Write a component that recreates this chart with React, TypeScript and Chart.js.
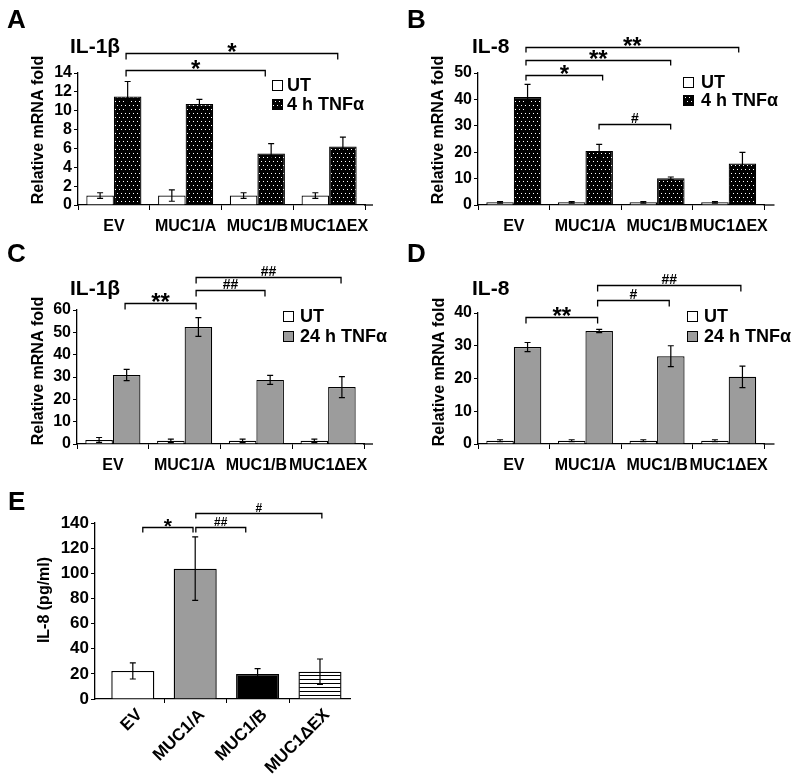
import React, { useEffect, useRef } from 'react';
import { Chart, registerables } from 'chart.js';

Chart.register(...registerables);

const FONT = "'Liberation Sans', Arial, Helvetica, sans-serif";
Chart.defaults.font.family = FONT;
Chart.defaults.color = '#000';

// ---------------- data ----------------
const categories = ['EV', 'MUC1/A', 'MUC1/B', 'MUC1ΔEX'];
const series4h = ['UT', '4 h TNFα'];
const series24h = ['UT', '24 h TNFα'];

// A: IL-1β mRNA, 4 h TNFα
const aUT = [1.0, 1.0, 1.0, 1.0];
const aUTErr = [0.3, 0.6, 0.3, 0.3];
const aTNF = [11.5, 10.7, 5.45, 6.2];
const aTNFErr = [1.6, 0.5, 1.05, 1.0];
const aTicks = [0, 2, 4, 6, 8, 10, 12, 14];

// B: IL-8 mRNA, 4 h TNFα
const bUT = [1.0, 1.0, 1.0, 1.0];
const bUTErr = [0.3, 0.3, 0.3, 0.3];
const bTNF = [40.9, 20.5, 10.1, 15.7];
const bTNFErr = [4.8, 2.5, 0.5, 4.2];
const bTicks = [0, 10, 20, 30, 40, 50];

// C: IL-1β mRNA, 24 h TNFα
const cUT = [1.8, 1.4, 1.4, 1.4];
const cUTErr = [1.1, 0.8, 0.8, 0.8];
const cTNF = [30.9, 52.4, 28.7, 25.5];
const cTNFErr = [2.5, 4.2, 2.0, 4.7];
const cTicks = [0, 10, 20, 30, 40, 50, 60];

// D: IL-8 mRNA, 24 h TNFα
const dUT = [1.0, 1.0, 1.0, 1.0];
const dUTErr = [0.3, 0.3, 0.3, 0.3];
const dTNF = [29.6, 34.5, 26.8, 20.5];
const dTNFErr = [1.4, 0.5, 3.2, 3.3];
const dTicks = [0, 10, 20, 30, 40];

// E: secreted IL-8 (pg/ml)
const eIL8 = [22.3, 103.7, 19.9, 21.7];
const eIL8Err = [6.4, 25.2, 4.3, 10.1];
const eTicks = [0, 20, 40, 60, 80, 100, 120, 140];

// significance brackets (category position from/to, level in axis units, label)
const aSig = [
  { from: 0.17, to: 2.11, level: 14.3, label: '*' },
  { from: 0.17, to: 3.12, level: 16.1, label: '*' },
];
const bSig = [
  { from: 0.17, to: 1.24, level: 49.2, label: '*' },
  { from: 0.17, to: 2.19, level: 54.9, label: '**' },
  { from: 0.17, to: 3.14, level: 60.0, label: '**' },
  { from: 1.19, to: 2.19, level: 30.7, label: '#' },
];
const cSig = [
  { from: 0.17, to: 1.16, level: 63.1, label: '**' },
  { from: 1.16, to: 2.12, level: 69.0, label: '##' },
  { from: 1.16, to: 3.18, level: 74.8, label: '##' },
];
const dSig = [
  { from: 0.17, to: 1.17, level: 38.8, label: '**' },
  { from: 1.17, to: 2.17, level: 44.0, label: '#' },
  { from: 1.17, to: 3.17, level: 48.5, label: '##' },
];
const eSig = [
  { from: 0.16, to: 0.965, level: 136.8, label: '*' },
  { from: 1.01, to: 1.81, level: 136.8, label: '##' },
  { from: 1.01, to: 3.03, level: 148.0, label: '#' },
];

// ---------------- layout / styles ----------------
type Sig = { from: number; to: number; level: number; label: string };
type Panel = {
  key: string;
  letter: string;
  title?: string;
  yTitle: string;
  box: { left: number; top: number; w: number; h: number };
  area: { l: number; r: number; t: number; b: number };
  letterPos: [number, number];
  titlePos?: [number, number];
  yTitlePos: [number, number];
  legendPos?: [number, number, number, number];
  axisExt: number;
  sig: Sig[];
  starSize: number;
  hashSize: number;
  drop: number;
  kind: 'grouped' | 'single';
  names?: string[];
  values: number[][];
  errors: number[][];
  ticks: number[];
  tnfFill?: 'dots' | 'gray';
};

const GRAY = '#9c9c9c';

function dotPattern(): CanvasPattern {
  const c = document.createElement('canvas');
  c.width = 8;
  c.height = 8;
  const g = c.getContext('2d')!;
  g.fillStyle = '#000';
  g.fillRect(0, 0, 8, 8);
  g.fillStyle = '#fff';
  [[1, 1], [5, 1], [3, 5], [7, 5]].forEach(([x, y]) => g.fillRect(x, y, 1, 1));
  return g.createPattern(c, 'repeat')!;
}

function stripePattern(): CanvasPattern {
  const c = document.createElement('canvas');
  c.width = 4;
  c.height = 4;
  const g = c.getContext('2d')!;
  g.fillStyle = '#fff';
  g.fillRect(0, 0, 4, 4);
  g.fillStyle = '#000';
  g.fillRect(0, 3, 4, 1);
  return g.createPattern(c, 'repeat')!;
}

const panels: Panel[] = [
  {
    key: 'A', letter: 'A', title: 'IL-1β', yTitle: 'Relative mRNA fold',
    box: { left: 0, top: 0, w: 400, h: 236 },
    area: { l: 78, r: 365, t: 73, b: 205 },
    letterPos: [7, 28], titlePos: [70, 53], yTitlePos: [39, 130],
    legendPos: [272, 80, 19, 4], axisExt: 8,
    sig: aSig, starSize: 24, hashSize: 14, drop: 6,
    kind: 'grouped', names: series4h, values: [aUT, aTNF], errors: [aUTErr, aTNFErr], ticks: aTicks, tnfFill: 'dots',
  },
  {
    key: 'B', letter: 'B', title: 'IL-8', yTitle: 'Relative mRNA fold',
    box: { left: 400, top: 0, w: 400, h: 236 },
    area: { l: 78, r: 364.5, t: 73, b: 205 },
    letterPos: [7, 28], titlePos: [72, 53], yTitlePos: [39, 130],
    legendPos: [283, 77, 18, 7], axisExt: 10,
    sig: bSig, starSize: 24, hashSize: 14, drop: 5,
    kind: 'grouped', names: series4h, values: [bUT, bTNF], errors: [bUTErr, bTNFErr], ticks: bTicks, tnfFill: 'dots',
  },
  {
    key: 'C', letter: 'C', title: 'IL-1β', yTitle: 'Relative mRNA fold',
    box: { left: 0, top: 236, w: 400, h: 240 },
    area: { l: 77, r: 364, t: 74, b: 208 },
    letterPos: [7, 26], titlePos: [70, 59], yTitlePos: [39, 135],
    legendPos: [283, 75, 20, 6], axisExt: 9,
    sig: cSig, starSize: 24, hashSize: 14, drop: 6,
    kind: 'grouped', names: series24h, values: [cUT, cTNF], errors: [cUTErr, cTNFErr], ticks: cTicks, tnfFill: 'gray',
  },
  {
    key: 'D', letter: 'D', title: 'IL-8', yTitle: 'Relative mRNA fold',
    box: { left: 400, top: 236, w: 400, h: 240 },
    area: { l: 78, r: 364.5, t: 77, b: 208 },
    letterPos: [7, 26], titlePos: [72, 59], yTitlePos: [39.5, 136],
    legendPos: [287, 75, 20, 6], axisExt: 10,
    sig: dSig, starSize: 24, hashSize: 14, drop: 6,
    kind: 'grouped', names: series24h, values: [dUT, dTNF], errors: [dUTErr, dTNFErr], ticks: dTicks, tnfFill: 'gray',
  },
  {
    key: 'E', letter: 'E', yTitle: 'IL-8 (pg/ml)',
    box: { left: 0, top: 476, w: 400, h: 302 },
    area: { l: 95, r: 350, t: 47, b: 223 },
    letterPos: [8, 34], yTitlePos: [45, 124],
    axisExt: 0,
    sig: eSig, starSize: 21, hashSize: 12, drop: 5,
    kind: 'single', values: [eIL8], errors: [eIL8Err], ticks: eTicks,
  },
];

function makePlugin(p: Panel) {
  return {
    id: 'figure' + p.key,
    afterDatasetsDraw(chart: any) {
      const ctx = chart.ctx as CanvasRenderingContext2D;
      const ys = chart.scales.y;
      ctx.save();
      ctx.strokeStyle = '#000';
      ctx.lineWidth = 1.2;
      p.values.forEach((vals, di) => {
        const errs = p.errors[di];
        const meta = chart.getDatasetMeta(di);
        meta.data.forEach((el: any, i: number) => {
          const v = vals[i];
          const e = errs[i];
          const top = ys.getPixelForValue(v + e);
          const bot = ys.getPixelForValue(v - e);
          const cap = 3;
          ctx.beginPath();
          ctx.moveTo(el.x, top);
          ctx.lineTo(el.x, bot);
          ctx.moveTo(el.x - cap, top);
          ctx.lineTo(el.x + cap, top);
          ctx.moveTo(el.x - cap, bot);
          ctx.lineTo(el.x + cap, bot);
          ctx.stroke();
        });
      });
      ctx.restore();
    },
    afterDraw(chart: any) {
      const ctx = chart.ctx as CanvasRenderingContext2D;
      const ca = chart.chartArea;
      const xs = chart.scales.x;
      const ys = chart.scales.y;
      ctx.save();
      ctx.fillStyle = '#000';
      ctx.strokeStyle = '#000';
      ctx.textAlign = 'left';
      ctx.textBaseline = 'alphabetic';
      ctx.font = `bold 26px ${FONT}`;
      ctx.fillText(p.letter, p.letterPos[0], p.letterPos[1]);
      if (p.title && p.titlePos) {
        ctx.font = `bold 21px ${FONT}`;
        ctx.fillText(p.title, p.titlePos[0], p.titlePos[1]);
      }
      // y title
      ctx.save();
      ctx.translate(p.yTitlePos[0], p.yTitlePos[1]);
      ctx.rotate(-Math.PI / 2);
      ctx.textAlign = 'center';
      ctx.textBaseline = 'middle';
      ctx.font = `bold 16px ${FONT}`;
      ctx.fillText(p.yTitle, 0, 0);
      ctx.restore();
      // x-axis extension
      if (p.axisExt) {
        ctx.lineWidth = 1.3;
        ctx.beginPath();
        ctx.moveTo(ca.right - 1, ca.bottom);
        ctx.lineTo(ca.right + p.axisExt, ca.bottom);
        ctx.stroke();
      }
      // small category ticks for the single-series panel
      if (p.kind === 'single') {
        ctx.lineWidth = 1;
        for (let i = 0; i < categories.length - 1; i++) {
          const x = Math.round(xs.getPixelForValue(i + 0.5)) + 0.5;
          ctx.beginPath();
          ctx.moveTo(x, ca.bottom);
          ctx.lineTo(x, ca.bottom + 4);
          ctx.stroke();
        }
      }
      // legend
      if (p.legendPos) {
        const [lx, ly, gap, tgap] = p.legendPos;
        chart.data.datasets.forEach((ds: any, i: number) => {
          const y = ly + i * gap;
          ctx.fillStyle = ds.backgroundColor;
          ctx.fillRect(lx, y, 11, 11);
          ctx.lineWidth = 1;
          ctx.strokeStyle = '#000';
          ctx.strokeRect(lx + 0.5, y + 0.5, 10, 10);
          ctx.fillStyle = '#000';
          ctx.font = `bold 18px ${FONT}`;
          ctx.textBaseline = 'middle';
          ctx.textAlign = 'left';
          ctx.fillText(ds.label, lx + 11 + tgap, y + 6.5);
        });
      }
      // significance brackets
      p.sig.forEach((s) => {
        const x1 = xs.getPixelForValue(s.from);
        const x2 = xs.getPixelForValue(s.to);
        const y = Math.round(ys.getPixelForValue(s.level)) + 0.5;
        ctx.strokeStyle = '#000';
        ctx.lineWidth = 1.3;
        ctx.beginPath();
        ctx.moveTo(x1, y + p.drop);
        ctx.lineTo(x1, y);
        ctx.lineTo(x2, y);
        ctx.lineTo(x2, y + p.drop);
        ctx.stroke();
        ctx.fillStyle = '#000';
        ctx.textAlign = 'center';
        ctx.textBaseline = 'alphabetic';
        const mid = (x1 + x2) / 2;
        if (s.label.includes('*')) {
          ctx.font = `bold ${p.starSize}px ${FONT}`;
          ctx.fillText(s.label, mid, y + p.starSize * 0.25);
        } else {
          ctx.font = `bold ${p.hashSize}px ${FONT}`;
          ctx.fillText(s.label, mid, y - 2);
        }
      });
      ctx.restore();
    },
  };
}

function buildConfig(p: Panel): any {
  const pad = { left: 0, top: p.area.t, right: p.box.w - p.area.r, bottom: 0 };
  const yScale = {
    min: p.ticks[0],
    max: p.ticks[p.ticks.length - 1],
    afterBuildTicks: (s: any) => {
      s.ticks = p.ticks.map((v) => ({ value: v }));
    },
    afterFit: (s: any) => {
      s.width = p.area.l;
      s.paddingTop = 0;
      s.paddingBottom = 0;
    },
    grid: { drawOnChartArea: false, drawTicks: true, tickLength: 4, color: '#000', lineWidth: 1 },
    border: { display: true, color: '#000', width: 1.3 },
    ticks: {
      color: '#000',
      padding: 2,
      autoSkip: false,
      font: { size: p.kind === 'single' ? 17 : 16, weight: 'bold' },
    },
  };
  const common = {
    responsive: false,
    animation: false,
    events: [],
    layout: { padding: pad },
    plugins: { legend: { display: false }, tooltip: { enabled: false } },
  };
  if (p.kind === 'grouped') {
    const ut = '#ffffff';
    const tnf = p.tnfFill === 'dots' ? dotPattern() : GRAY;
    return {
      type: 'bar',
      data: {
        labels: categories,
        datasets: [
          { label: p.names![0], data: p.values[0], backgroundColor: ut, borderColor: '#000', borderWidth: 1.2 },
          { label: p.names![1], data: p.values[1], backgroundColor: tnf, borderColor: '#000', borderWidth: 1.2 },
        ],
      },
      options: {
        ...common,
        datasets: { bar: { categoryPercentage: 0.768, barPercentage: 1 } },
        scales: {
          x: {
            offset: true,
            afterFit: (s: any) => {
              s.height = p.box.h - p.area.b;
              s.paddingLeft = 0;
              s.paddingRight = 0;
            },
            grid: { offset: true, drawOnChartArea: false, drawTicks: true, tickLength: 5, color: '#000' },
            border: { display: true, color: '#000', width: 1.3 },
            ticks: { color: '#000', padding: 7, maxRotation: 0, autoSkip: false, font: { size: 16, weight: 'bold' } },
          },
          y: yScale,
        },
      },
      plugins: [makePlugin(p)],
    };
  }
  // single series panel (E)
  const fills = ['#ffffff', GRAY, '#000000', stripePattern()];
  return {
    type: 'bar',
    data: {
      datasets: [
        {
          label: 'IL-8',
          data: p.values[0].map((v, i) => ({ x: i, y: v })),
          backgroundColor: fills,
          borderColor: '#000',
          borderWidth: 1.4,
        },
      ],
    },
    options: {
      ...common,
      datasets: { bar: { categoryPercentage: 1, barPercentage: 0.69 } },
      scales: {
        x: {
          type: 'linear',
          offset: false,
          min: -0.606,
          max: 3.481,
          afterBuildTicks: (s: any) => {
            s.ticks = categories.map((_, i) => ({ value: i }));
          },
          afterFit: (s: any) => {
            s.height = p.box.h - p.area.b;
            s.paddingLeft = 0;
            s.paddingRight = 0;
          },
          grid: { display: false, drawTicks: false },
          border: { display: true, color: '#000', width: 1.3 },
          ticks: {
            color: '#000',
            padding: 6,
            labelOffset: 7,
            minRotation: 45,
            maxRotation: 45,
            autoSkip: false,
            font: { size: 17, weight: 'bold' },
            callback: (v: number) => categories[Math.round(v)] ?? '',
          },
        },
        y: yScale,
      },
    },
    plugins: [makePlugin(p)],
  };
}

export default function App() {
  const canvases = useRef<(HTMLCanvasElement | null)[]>([]);
  useEffect(() => {
    const charts = panels.map((p, i) => new Chart(canvases.current[i]!, buildConfig(p)));
    return () => charts.forEach((c) => c.destroy());
  }, []);
  return (
    <div style={{ position: 'absolute', left: 0, top: 0, width: 800, height: 778, background: '#fff', overflow: 'hidden' }}>
      {panels.map((p, i) => (
        <canvas
          key={p.key}
          ref={(el) => {
            canvases.current[i] = el;
          }}
          width={p.box.w}
          height={p.box.h}
          style={{ position: 'absolute', left: p.box.left, top: p.box.top, width: p.box.w, height: p.box.h }}
        />
      ))}
    </div>
  );
}
